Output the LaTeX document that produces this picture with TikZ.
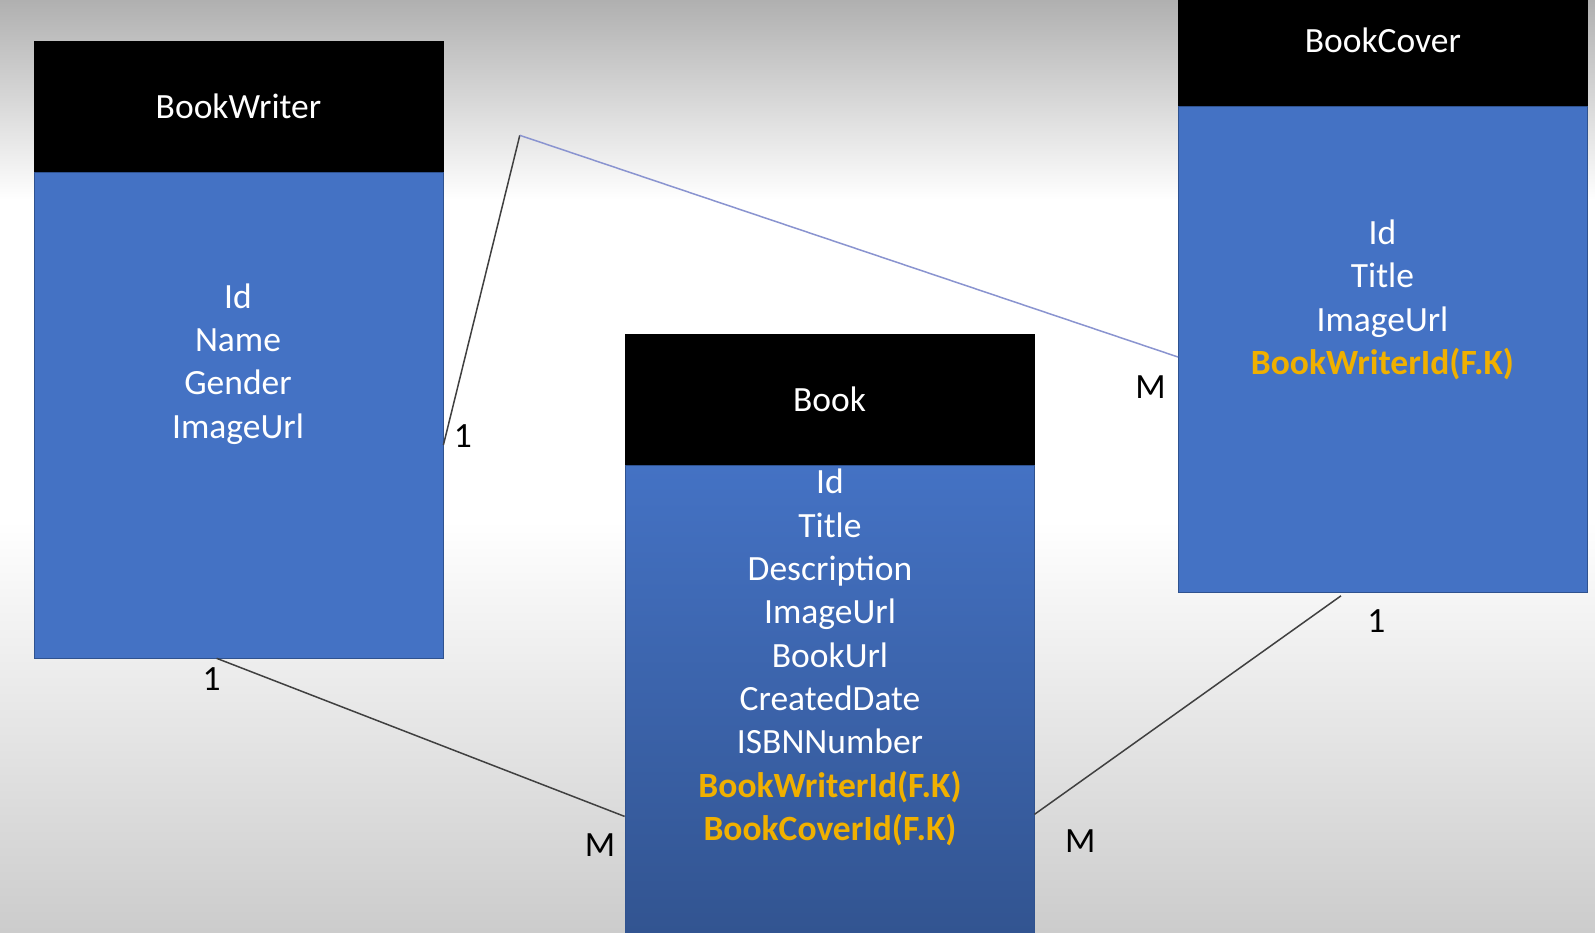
\documentclass[tikz,border=0pt]{standalone}
\usepackage{fontspec}
\setmainfont{Carlito}
\usetikzlibrary{calc,positioning}

\definecolor{tblblue}{HTML}{4472C4}
\definecolor{tbledge}{HTML}{2F528F}
\definecolor{fkgold}{HTML}{F0B000}
\definecolor{linkgray}{HTML}{404040}
\definecolor{linkblue}{HTML}{8A94D0}

\newcommand{\fk}[1]{\textcolor{fkgold}{\textbf{#1}}}

\tikzset{
  tblfont/.style={font=\fontsize{17.75pt}{21.65pt}\selectfont},
  tblhead/.style={tblfont,draw=black,fill=black,text=white,inner sep=0pt,
    minimum width=204.5pt,minimum height=65pt},
  tblbody/.style={draw=tbledge,fill=tblblue,inner sep=0pt,minimum width=204.5pt},
  fields/.style={tblfont,text=white,align=center},
  card/.style={tblfont,text=black},
  link/.style={draw=linkgray,line width=0.75pt},
}

\begin{document}
\begin{tikzpicture}[x=0.5pt,y=-0.5pt]
  \useasboundingbox (0,0) rectangle (1595,932);

  % background
  \fill[top color=gray!62,bottom color=white] (0,0) rectangle (1595,200);
  \fill[white] (0,199) rectangle (1595,521);
  \fill[top color=white,bottom color=gray!40] (0,520) rectangle (1595,932);

  % tables
  \node[tblhead,anchor=north west] (writerhead) at (33.6,40.7) {BookWriter};
  \node[tblbody,minimum height=243pt,below=0pt of writerhead] (writerbody) {};
  \node[fields] (writerfields) at (238,364) {Id\\Name\\Gender\\ImageUrl};

  \node[tblhead,anchor=south west] (coverhead) at (1178,106) {BookCover};
  \node[tblbody,minimum height=243pt,below=0pt of coverhead] (coverbody) {};
  \node[fields] (coverfields) at (1382.4,300) {Id\\Title\\ImageUrl\\\fk{BookWriterId(F.K)}};

  \node[tblhead,anchor=north west,minimum height=65.5pt] (bookhead) at (624.6,333.6) {Book};
  \node[tblbody,minimum height=250pt,below=0pt of bookhead,
        top color=tblblue,bottom color=tblblue!72!black] (bookbody) {};
  \node[fields] (bookfields) at (830,657.5) {Id\\Title\\Description\\ImageUrl\\BookUrl\\CreatedDate\\ISBNNumber\\\fk{BookWriterId(F.K)}\\\fk{BookCoverId(F.K)}};

  % relations
  \coordinate (bend) at (519.8,135.3);
  \draw[link] ($(writerbody.north east)+(0,273.5)$) -- (bend);
  \draw[link,draw=linkblue] (bend) -- ($(coverbody.north west)+(0,251)$);
  \draw[link] ($(writerbody.south west)+(183,0)$) -- ($(bookbody.north west)+(0,351)$);
  \draw[link] ($(bookbody.north east)+(0,349)$) -- ($(coverbody.south west)+(163,3)$);

  \node[card] (writerone)   at (462.8,436.5) {1};
  \node[card] (coverm)      at (1150.5,387.5) {M};
  \node[card] (writerbone)  at (211.6,679.5) {1};
  \node[card] (bookleftm)   at (600,845.3) {M};
  \node[card] (bookrightm)  at (1080.3,841) {M};
  \node[card] (coverone)    at (1376.3,621.5) {1};
\end{tikzpicture}
\end{document}
